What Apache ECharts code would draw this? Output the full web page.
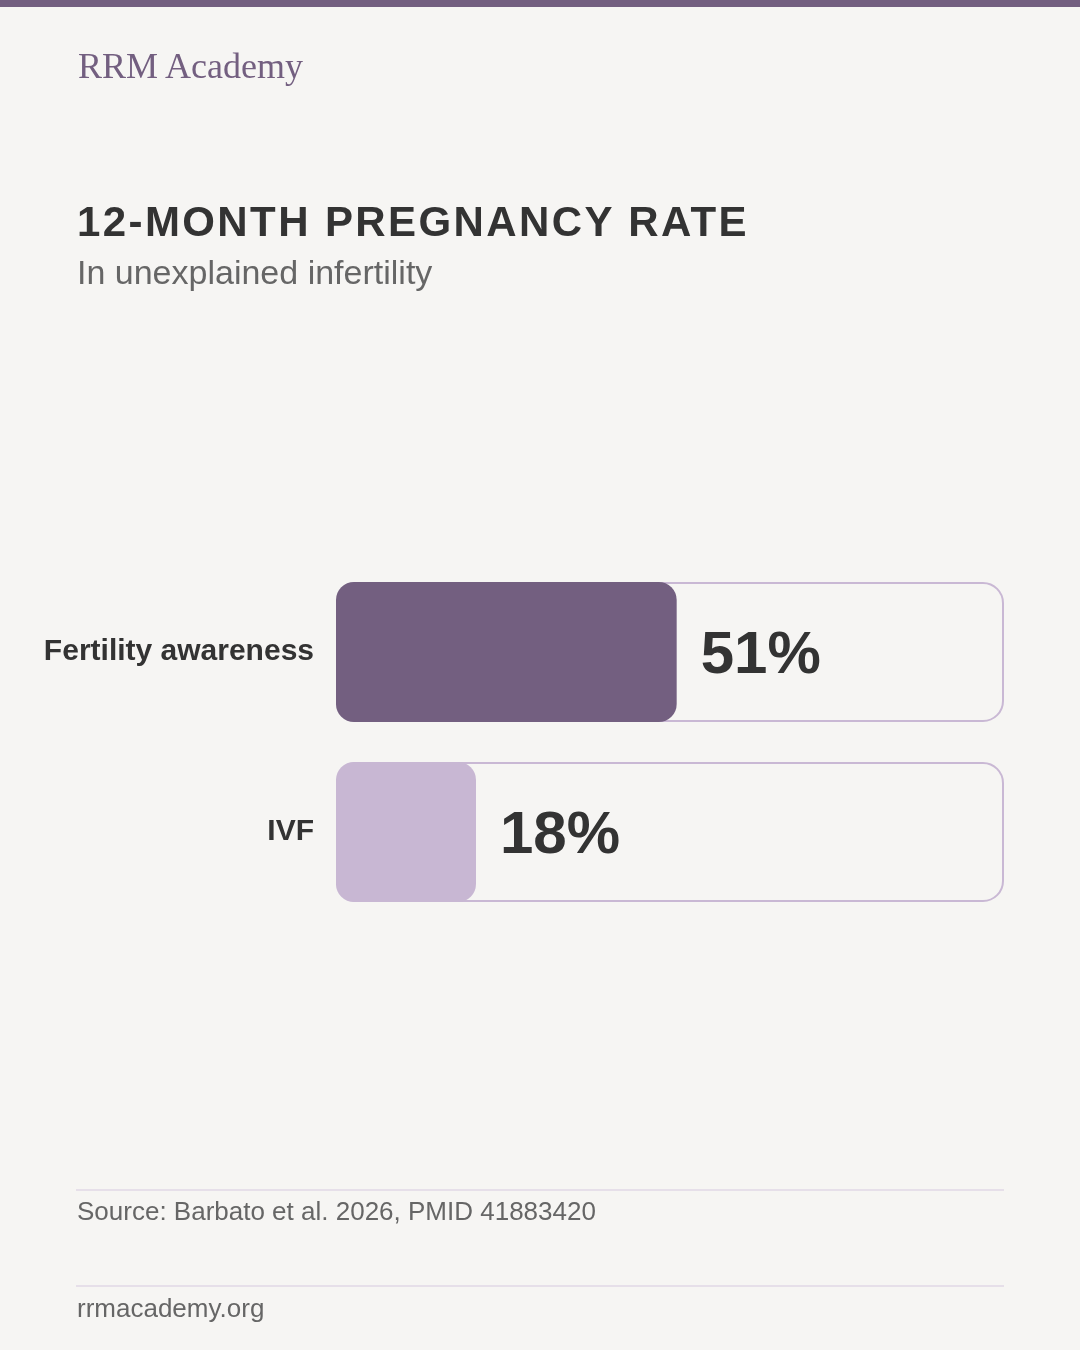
<!DOCTYPE html>
<html>
<head>
<meta charset="utf-8">
<script src="https://cdn.jsdelivr.net/npm/echarts@6/dist/echarts.min.js"></script>
<style>
  html, body { margin: 0; padding: 0; background: #f6f5f3; }
  #wrap { position: relative; width: 1080px; height: 1350px; background: #f6f5f3; overflow: hidden; }
  #topbar { position: absolute; left: 0; top: 0; width: 1080px; height: 7px; background: #735f80; }
  .t { position: absolute; white-space: nowrap; font-family: "Liberation Sans", Arial, sans-serif; }
  #brand { left: 78px; top: 45px; font-family: "Liberation Serif", "DejaVu Serif", serif; font-size: 36px; color: #735f80; }
  #title { left: 77px; top: 198px; font-size: 42px; font-weight: bold; color: #333; letter-spacing: 2.4px; }
  #sub { left: 77px; top: 253px; font-size: 34px; color: #666; }
  .rule { position: absolute; left: 76px; width: 928px; height: 2px; background: #e6dfe9; }
  #src { left: 77px; top: 1196px; font-size: 26px; color: #666; }
  #site { left: 77px; top: 1293px; font-size: 26px; color: #666; }
  #chart { position: absolute; left: 0; top: 0; width: 1080px; height: 1350px; }
</style>
</head>
<body>
<div id="wrap">
  <div id="chart"></div>
  <div id="topbar"></div>
  <div class="t" id="brand">RRM Academy</div>
  <div class="t" id="title">12-MONTH PREGNANCY RATE</div>
  <div class="t" id="sub">In unexplained infertility</div>
  <div class="rule" style="top:1189px"></div>
  <div class="t" id="src">Source: Barbato et al. 2026, PMID 41883420</div>
  <div class="rule" style="top:1285px"></div>
  <div class="t" id="site">rrmacademy.org</div>
</div>
<script>
const categories = ["Fertility awareness", "IVF"];
const values = [51, 18];
const barColors = ["#735f80", "#c8b7d3"];
const trackMax = 100;

const chart = echarts.init(document.getElementById('chart'), null, { renderer: 'canvas' });
chart.setOption({
  backgroundColor: 'transparent',
  animation: false,
  grid: { left: 336, right: 76, top: 562, height: 360, containLabel: false },
  xAxis: { type: 'value', min: 0, max: trackMax, show: false },
  yAxis: {
    type: 'category',
    data: categories,
    inverse: true,
    axisLine: { show: false },
    axisTick: { show: false },
    axisLabel: {
      margin: 22,
      padding: [9, 0, 0, 0],
      fontFamily: 'Liberation Sans, Arial, sans-serif',
      fontSize: 30,
      fontWeight: 'bold',
      color: '#333'
    }
  },
  series: [
    {
      type: 'bar',
      data: categories.map(() => trackMax),
      barWidth: 140,
      silent: true,
      itemStyle: { color: '#f6f5f3', borderColor: '#c9b8d4', borderWidth: 2, borderRadius: 20 },
      z: 1
    },
    {
      type: 'bar',
      data: values.map((v, i) => ({ value: v, itemStyle: { color: barColors[i] } })),
      barWidth: 140,
      barGap: '-100%',
      barMinHeight: 140,
      itemStyle: { borderRadius: 18 },
      label: {
        show: true,
        position: 'right',
        distance: 24,
        offset: [0, 4],
        formatter: p => p.value + '%',
        fontFamily: 'Liberation Sans, Arial, sans-serif',
        fontSize: 60,
        fontWeight: 'bold',
        color: '#333'
      },
      z: 2
    }
  ]
});
</script>
</body>
</html>
